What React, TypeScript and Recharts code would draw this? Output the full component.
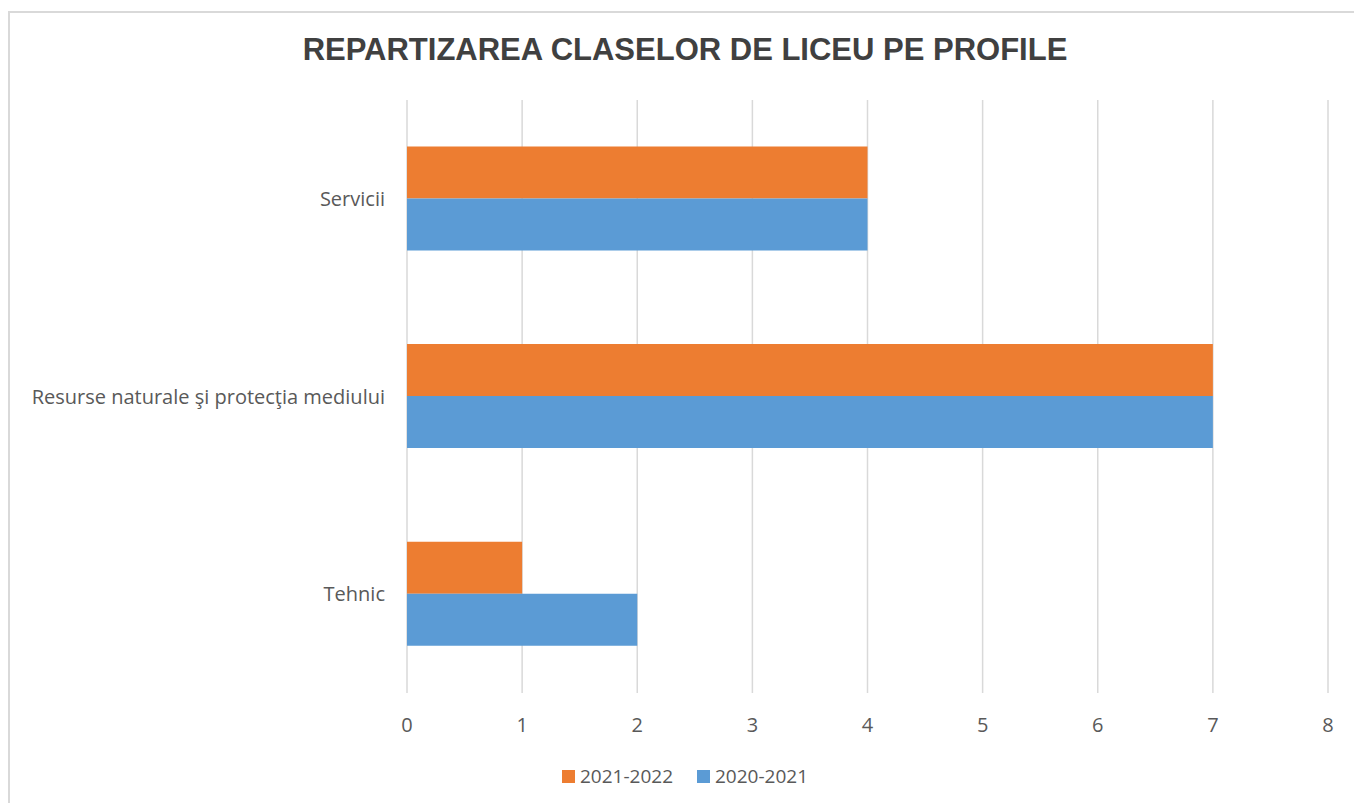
import React from 'react';
import { BarChart, Bar, XAxis, YAxis, CartesianGrid, Legend } from 'recharts';

const profiles = ['Servicii', 'Resurse naturale şi protecţia mediului', 'Tehnic'];
const classes2122 = [4, 7, 1];
const classes2021 = [4, 7, 2];
const xTicks = [0, 1, 2, 3, 4, 5, 6, 7, 8];

const series = [
  { key: 'y2122', name: '2021-2022', color: '#ED7D31' },
  { key: 'y2021', name: '2020-2021', color: '#5B9BD5' },
];

const data = profiles.map((name, i) => ({
  name,
  y2122: classes2122[i],
  y2021: classes2021[i],
}));

const labelFont = '"Open Sans", sans-serif';

const LegendContent = () => (
  <div
    style={{
      display: 'flex',
      justifyContent: 'center',
      alignItems: 'center',
      gap: 24,
      height: 40,
      fontFamily: labelFont,
      fontSize: 19,
      color: '#595959',
    }}
  >
    {series.map((s) => (
      <div key={s.key} style={{ display: 'flex', alignItems: 'center', gap: 5 }}>
        <div style={{ width: 13, height: 13, background: s.color }} />
        <span>{s.name}</span>
      </div>
    ))}
  </div>
);

export default function App() {
  return (
    <div
      style={{
        position: 'absolute',
        left: 0,
        top: 0,
        width: 1354,
        height: 803,
        overflow: 'hidden',
        background: '#fff',
      }}
    >
      <div
        style={{
          position: 'absolute',
          left: 8,
          top: 11,
          width: 1360,
          height: 800,
          border: '2px solid #d9d9d9',
          boxSizing: 'border-box',
        }}
      >
        <div
          style={{
            position: 'absolute',
            top: 21,
            left: 0,
            width: 1350,
            textAlign: 'center',
            fontFamily: '"Liberation Sans", Arial, sans-serif',
            fontWeight: 'bold',
            fontSize: 31,
            lineHeight: '31px',
            color: '#404040',
          }}
        >
          REPARTIZAREA CLASELOR DE LICEU PE PROFILE
        </div>
        <BarChart
          width={1350}
          height={790}
          data={data}
          layout="vertical"
          margin={{ top: 87, right: 32, left: 0, bottom: 7 }}
          barCategoryGap="23.5%"
          barGap={0}
        >
          <CartesianGrid horizontal={false} stroke="#d9d9d9" strokeWidth={1.5} />
          <XAxis
            type="number"
            domain={[0, 8]}
            ticks={xTicks}
            height={63}
            axisLine={false}
            tickLine={false}
            tickMargin={19}
            tick={{ fill: '#595959', fontSize: 20, fontFamily: labelFont }}
          />
          <YAxis
            type="category"
            dataKey="name"
            width={397}
            axisLine={false}
            tickLine={false}
            tickMargin={16}
            tick={{ fill: '#595959', fontSize: 20, fontFamily: labelFont }}
          />
          <Legend
            verticalAlign="bottom"
            height={40}
            content={<LegendContent />}
            wrapperStyle={{ left: 0, width: 1350 }}
          />
          {series.map((s) => (
            <Bar
              key={s.key}
              dataKey={s.key}
              name={s.name}
              fill={s.color}
              isAnimationActive={false}
            />
          ))}
        </BarChart>
      </div>
    </div>
  );
}
